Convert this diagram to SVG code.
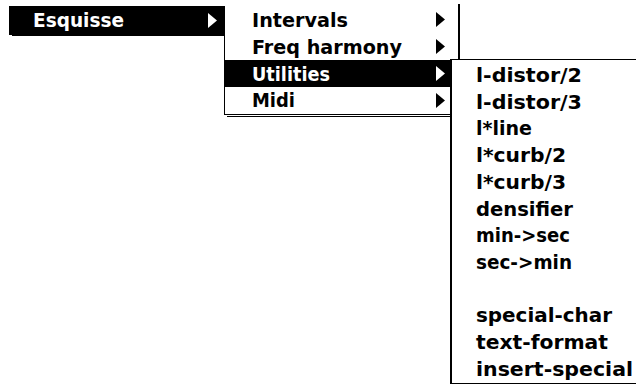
<svg xmlns="http://www.w3.org/2000/svg" width="636" height="385" viewBox="0 0 636 385">
<style>
text{font-family:"DejaVu Sans","Liberation Sans",sans-serif;font-weight:bold;font-size:19px;fill:#000}
.hi{fill:#fff}
.ln{stroke:#000;stroke-width:1;fill:none}
.ln2{stroke:#000;stroke-width:2;fill:none}
</style>
<rect width="636" height="385" fill="#fff"/>
<g id="menu-esquisse">
<rect x="9" y="6" width="216" height="29" fill="#000"/>
<line class="ln" x1="12" y1="35.5" x2="225" y2="35.5"/>
<text class="hi" x="33" y="27" textLength="91" lengthAdjust="spacingAndGlyphs">Esquisse</text>
<polygon points="208,13 217,20.5 208,28" fill="#fff"/>
</g>
<g id="submenu">
<rect x="224.5" y="60" width="225.5" height="27" fill="#000"/>
<line class="ln" x1="224.5" y1="35" x2="224.5" y2="115"/>
<line class="ln2" x1="459" y1="4" x2="459" y2="59"/>
<line class="ln" x1="224" y1="114.5" x2="450" y2="114.5"/>
<line class="ln" x1="227" y1="116.5" x2="450" y2="116.5"/>
<text x="252" y="27" textLength="96" lengthAdjust="spacingAndGlyphs">Intervals</text>
<text x="252" y="54" textLength="150" lengthAdjust="spacingAndGlyphs">Freq harmony</text>
<text class="hi" x="252" y="81" textLength="78" lengthAdjust="spacingAndGlyphs">Utilities</text>
<text x="252" y="107" textLength="43" lengthAdjust="spacingAndGlyphs">Midi</text>
<polygon points="436,12 445,19.5 436,27" fill="#000"/>
<polygon points="436,39 445,46.5 436,54" fill="#000"/>
<polygon points="436,66 445,73.5 436,81" fill="#fff"/>
<polygon points="436,93 445,100.5 436,108" fill="#000"/>
</g>
<g id="utilities-menu">
<rect x="450" y="59" width="190" height="324" fill="#fff"/>
<line class="ln" x1="450" y1="59.5" x2="636" y2="59.5"/>
<line class="ln2" x1="451" y1="59" x2="451" y2="384"/>
<line class="ln" x1="450" y1="383.5" x2="636" y2="383.5"/>
<text x="476" y="82" textLength="106" lengthAdjust="spacingAndGlyphs">l-distor/2</text>
<text x="476" y="108.7" textLength="106" lengthAdjust="spacingAndGlyphs">l-distor/3</text>
<text x="476" y="135.4" textLength="56" lengthAdjust="spacingAndGlyphs">l*line</text>
<text x="476" y="162.1" textLength="90" lengthAdjust="spacingAndGlyphs">l*curb/2</text>
<text x="476" y="188.8" textLength="90" lengthAdjust="spacingAndGlyphs">l*curb/3</text>
<text x="476" y="215.5" textLength="97" lengthAdjust="spacingAndGlyphs">densifier</text>
<text x="476" y="242.2" textLength="94" lengthAdjust="spacingAndGlyphs">min-&gt;sec</text>
<text x="476" y="268.9" textLength="96" lengthAdjust="spacingAndGlyphs">sec-&gt;min</text>
<text x="476" y="322.3" textLength="136" lengthAdjust="spacingAndGlyphs">special-char</text>
<text x="476" y="349" textLength="132" lengthAdjust="spacingAndGlyphs">text-format</text>
<text x="476" y="375.7" textLength="157" lengthAdjust="spacingAndGlyphs">insert-special</text>
</g>
</svg>
